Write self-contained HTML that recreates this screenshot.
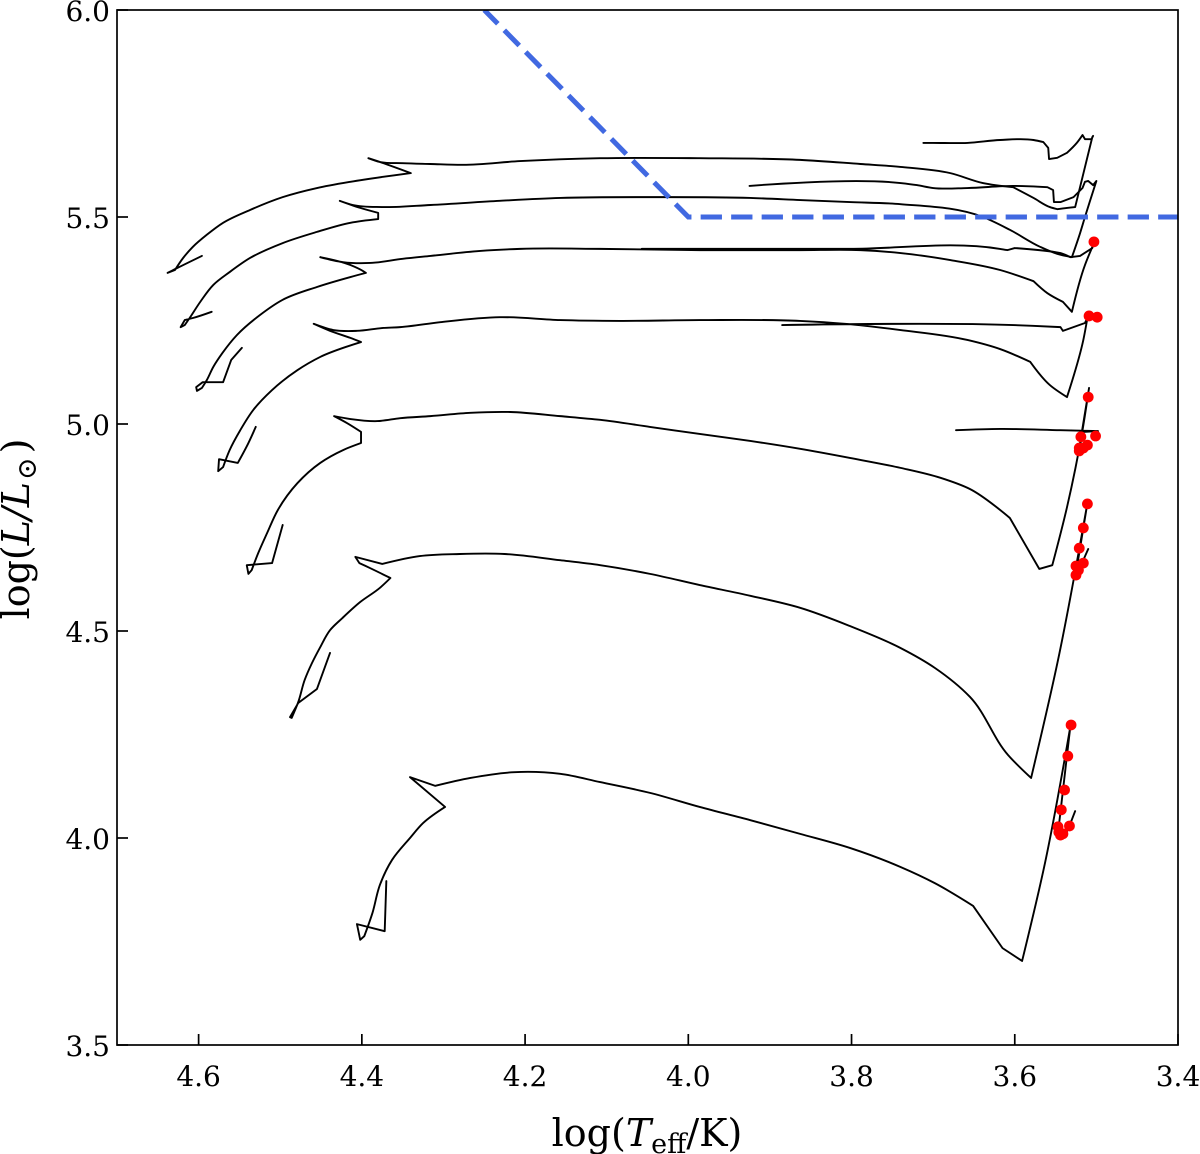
<!DOCTYPE html>
<html>
<head>
<meta charset="utf-8">
<title>HR diagram</title>
<style>
html,body{margin:0;padding:0;background:#fff;}
svg{display:block;}
text{font-family:"DejaVu Serif","Liberation Serif",serif;fill:#000;}
</style>
</head>
<body>
<svg id="chart" xmlns="http://www.w3.org/2000/svg" width="1200" height="1154" viewBox="0 0 1200 1154"></svg>
<script>
// Axis domains and ticks
const xDomain = [4.7, 3.4];
const yDomain = [3.5, 6.0];
const xTicks = [4.6, 4.4, 4.2, 4.0, 3.8, 3.6, 3.4];
const yTicks = [3.5, 4.0, 4.5, 5.0, 5.5, 6.0];
const xTickLabels = ["4.6", "4.4", "4.2", "4.0", "3.8", "3.6", "3.4"];
const yTickLabels = ["3.5", "4.0", "4.5", "5.0", "5.5", "6.0"];

// Evolutionary tracks as [logTeff, logL]
const track1 = [[4.370,3.896],[4.372,3.775],[4.406,3.792],[4.402,3.754],[4.397,3.763],[4.387,3.819],[4.378,3.886],[4.363,3.947],[4.341,4.000],[4.325,4.036],[4.298,4.075],[4.341,4.147],[4.310,4.126],[4.267,4.145],[4.213,4.159],[4.157,4.155],[4.108,4.135],[4.047,4.109],[3.986,4.075],[3.924,4.043],[3.863,4.010],[3.802,3.976],[3.740,3.930],[3.698,3.891],[3.651,3.836],[3.615,3.734],[3.591,3.703],[3.564,3.930],[3.532,4.268],[3.546,4.029],[3.542,4.007],[3.535,4.019],[3.526,4.065]];
const track2 = [[4.439,4.447],[4.455,4.360],[4.478,4.326],[4.488,4.292],[4.486,4.290],[4.478,4.328],[4.470,4.382],[4.461,4.423],[4.451,4.461],[4.439,4.502],[4.424,4.531],[4.402,4.570],[4.378,4.604],[4.365,4.628],[4.390,4.652],[4.403,4.664],[4.408,4.679],[4.375,4.662],[4.329,4.681],[4.280,4.686],[4.225,4.686],[4.157,4.671],[4.108,4.659],[4.047,4.638],[3.986,4.611],[3.924,4.585],[3.863,4.556],[3.802,4.512],[3.740,4.459],[3.698,4.411],[3.655,4.341],[3.608,4.200],[3.580,4.145],[3.547,4.430],[3.511,4.809],[3.526,4.628],[3.517,4.667],[3.510,4.698]];
const track3 = [[4.497,4.756],[4.510,4.664],[4.541,4.659],[4.539,4.638],[4.535,4.647],[4.527,4.688],[4.516,4.737],[4.503,4.792],[4.479,4.857],[4.451,4.906],[4.423,4.937],[4.401,4.954],[4.401,4.981],[4.418,5.002],[4.434,5.019],[4.414,5.012],[4.381,5.007],[4.353,5.014],[4.316,5.019],[4.267,5.027],[4.218,5.029],[4.157,5.019],[4.108,5.010],[4.047,4.993],[3.986,4.976],[3.924,4.959],[3.863,4.940],[3.802,4.918],[3.740,4.894],[3.691,4.870],[3.655,4.843],[3.606,4.773],[3.570,4.650],[3.554,4.659],[3.536,4.799],[3.517,4.985],[3.509,5.087],[3.521,4.942],[3.516,4.981],[3.498,4.983],[3.544,4.985],[3.618,4.988],[3.672,4.985]];
const track4 = [[4.530,4.993],[4.539,4.954],[4.552,4.906],[4.575,4.915],[4.576,4.886],[4.570,4.896],[4.562,4.937],[4.549,4.985],[4.533,5.034],[4.510,5.082],[4.479,5.130],[4.451,5.162],[4.401,5.198],[4.414,5.208],[4.439,5.225],[4.459,5.242],[4.435,5.227],[4.406,5.225],[4.374,5.232],[4.353,5.234],[4.304,5.246],[4.231,5.258],[4.157,5.251],[4.084,5.249],[3.986,5.251],[3.863,5.249],[3.808,5.242],[3.740,5.227],[3.658,5.203],[3.618,5.181],[3.581,5.150],[3.557,5.094],[3.536,5.065],[3.516,5.203],[3.511,5.256],[3.514,5.244],[3.541,5.225],[3.544,5.234],[3.602,5.239],[3.885,5.239]];
const track5 = [[4.547,5.184],[4.560,5.155],[4.570,5.101],[4.595,5.101],[4.603,5.089],[4.602,5.080],[4.596,5.087],[4.590,5.106],[4.582,5.138],[4.571,5.171],[4.553,5.215],[4.525,5.263],[4.497,5.300],[4.455,5.331],[4.414,5.355],[4.395,5.365],[4.399,5.370],[4.414,5.384],[4.451,5.403],[4.423,5.391],[4.390,5.389],[4.350,5.399],[4.316,5.406],[4.255,5.418],[4.206,5.423],[4.108,5.423],[3.986,5.420],[3.863,5.420],[3.789,5.420],[3.740,5.413],[3.679,5.396],[3.618,5.372],[3.577,5.345],[3.560,5.316],[3.541,5.295],[3.530,5.271],[3.514,5.384],[3.504,5.432],[3.505,5.425],[3.520,5.406],[3.532,5.403],[3.544,5.413],[3.550,5.415],[3.600,5.425],[3.609,5.420],[3.618,5.423],[3.802,5.423],[4.057,5.423]];
const track6 = [[4.584,5.271],[4.607,5.256],[4.617,5.251],[4.622,5.234],[4.617,5.239],[4.611,5.256],[4.598,5.295],[4.582,5.336],[4.562,5.367],[4.537,5.401],[4.497,5.437],[4.455,5.464],[4.414,5.486],[4.380,5.495],[4.380,5.510],[4.402,5.522],[4.427,5.539],[4.411,5.529],[4.374,5.524],[4.316,5.529],[4.231,5.539],[4.157,5.546],[4.047,5.548],[3.924,5.546],[3.863,5.541],[3.802,5.536],[3.740,5.531],[3.639,5.500],[3.606,5.469],[3.569,5.428],[3.548,5.411],[3.530,5.403],[3.520,5.461],[3.514,5.500],[3.500,5.587],[3.504,5.577],[3.510,5.587],[3.514,5.585],[3.517,5.570],[3.528,5.548],[3.544,5.536],[3.552,5.536],[3.553,5.565],[3.560,5.572],[3.602,5.575],[3.658,5.570],[3.700,5.570],[3.720,5.577],[3.740,5.582],[3.925,5.575]];
const track7 = [[4.596,5.406],[4.629,5.374],[4.638,5.365],[4.629,5.372],[4.619,5.401],[4.607,5.428],[4.590,5.457],[4.570,5.486],[4.537,5.517],[4.497,5.548],[4.455,5.570],[4.414,5.585],[4.374,5.597],[4.340,5.606],[4.378,5.633],[4.392,5.642],[4.378,5.633],[4.350,5.630],[4.316,5.628],[4.276,5.626],[4.206,5.635],[4.108,5.642],[3.986,5.642],[3.863,5.638],[3.789,5.628],[3.740,5.621],[3.679,5.606],[3.639,5.582],[3.602,5.572],[3.577,5.546],[3.557,5.524],[3.548,5.519],[3.536,5.522],[3.526,5.524],[3.505,5.693],[3.504,5.696],[3.506,5.688],[3.514,5.688],[3.517,5.698],[3.524,5.679],[3.536,5.655],[3.548,5.643],[3.558,5.640],[3.559,5.667],[3.565,5.681],[3.577,5.686],[3.618,5.686],[3.658,5.679],[3.700,5.679],[3.712,5.679]];
const tracks = [track1, track2, track3, track4, track5, track6, track7];

// Red markers as [logTeff, logL]
const redPoints = [[3.531,4.273],[3.535,4.198],[3.539,4.116],[3.543,4.068],[3.547,4.027],[3.546,4.014],[3.544,4.007],[3.541,4.010],[3.533,4.029],
[3.511,4.807],[3.516,4.749],[3.521,4.700],[3.516,4.664],[3.525,4.657],[3.522,4.647],[3.525,4.635],
[3.510,5.065],[3.519,4.969],[3.501,4.971],[3.511,4.949],[3.516,4.942],[3.521,4.942],[3.521,4.935],
[3.509,5.261],[3.499,5.258],
[3.503,5.440]];

// Dashed limit line as [logTeff, logL]
const limitLine = [[4.25,6.0],[4.0,5.5],[3.4,5.5]];

const svg = document.getElementById('chart');
const NS = 'http://www.w3.org/2000/svg';
const plot = {left:117, right:1178, top:10, bottom:1045};
function xScale(v){ return plot.left + (v - xDomain[0]) / (xDomain[1] - xDomain[0]) * (plot.right - plot.left); }
function yScale(v){ return plot.bottom - (v - yDomain[0]) / (yDomain[1] - yDomain[0]) * (plot.bottom - plot.top); }
function make(tag, attrs, parent){
  const el = document.createElementNS(NS, tag);
  for (const k in attrs) el.setAttribute(k, attrs[k]);
  (parent || svg).appendChild(el);
  return el;
}
function pointsOf(arr){ return arr.map(p => xScale(p[0]).toFixed(2) + ',' + yScale(p[1]).toFixed(2)).join(' '); }

// Path through the data: very gentle bends are rounded, anything sharper stays a corner.
function smoothPath(arr){
  const pts = arr.map(p => [xScale(p[0]), yScale(p[1])]);
  const dirs = pts.map((p, i) => {
    if (i === 0 || i === pts.length - 1) return null;
    const a = pts[i - 1], b = pts[i + 1];
    const ax = p[0] - a[0], ay = p[1] - a[1], bx = b[0] - p[0], by = b[1] - p[1];
    const la = Math.hypot(ax, ay) || 1, lb = Math.hypot(bx, by) || 1;
    const cos = (ax * bx + ay * by) / (la * lb);
    if (cos < 0.955) return null;
    const dx = ax / (la * la) + bx / (lb * lb), dy = ay / (la * la) + by / (lb * lb);
    const l = Math.hypot(dx, dy) || 1;
    return [dx / l, dy / l];
  });
  let d = 'M' + pts[0][0].toFixed(2) + ' ' + pts[0][1].toFixed(2);
  for (let i = 0; i < pts.length - 1; i++) {
    const p = pts[i], q = pts[i + 1];
    const len = Math.hypot(q[0] - p[0], q[1] - p[1]) / 3;
    const c1 = dirs[i] ? [p[0] + dirs[i][0] * len, p[1] + dirs[i][1] * len] : p;
    const c2 = dirs[i + 1] ? [q[0] - dirs[i + 1][0] * len, q[1] - dirs[i + 1][1] * len] : q;
    d += 'C' + c1[0].toFixed(2) + ' ' + c1[1].toFixed(2) + ' ' + c2[0].toFixed(2) + ' ' + c2[1].toFixed(2) + ' ' + q[0].toFixed(2) + ' ' + q[1].toFixed(2);
  }
  return d;
}

const bg = make('rect', {x:0, y:0, width:1200, height:1154, fill:'#fff'});



const defs = make('defs', {});
const clip = make('clipPath', {id:'plot-clip'}, defs);
make('rect', {x:plot.left, y:plot.top, width:plot.right-plot.left, height:plot.bottom-plot.top}, clip);

tracks.forEach((t, i) => {
  const line = make('path', {d:smoothPath(t), fill:'none', stroke:'#000', 'stroke-width':1.9, 'stroke-linejoin':'round', 'stroke-linecap':'round'});
  
  
});

redPoints.forEach((p, i) => {
  const dot = make('circle', {cx:xScale(p[0]).toFixed(2), cy:yScale(p[1]).toFixed(2), r:5.4, fill:'#ff0000'});
  
  
});

const limit = make('polyline', {points:pointsOf(limitLine), fill:'none', stroke:'#4169e1', 'stroke-width':5, 'stroke-dasharray':'21.3 9.2', 'stroke-dashoffset':2, 'clip-path':'url(#plot-clip)'});



const frame = make('rect', {x:plot.left, y:plot.top, width:plot.right-plot.left, height:plot.bottom-plot.top, fill:'none', stroke:'#000', 'stroke-width':1.7});



xTicks.forEach((v, i) => {
  const x = xScale(v);
  const tick = make('line', {x1:x, x2:x, y1:plot.bottom, y2:plot.bottom - 11, stroke:'#000', 'stroke-width':1.7});
  
  
  const label = make('text', {x:x, y:1086, 'text-anchor':'middle', 'font-size':28});
  label.textContent = xTickLabels[i];
  
  
});

yTicks.forEach((v, i) => {
  const y = yScale(v);
  const tick = make('line', {x1:plot.left, x2:plot.left + 11, y1:y, y2:y, stroke:'#000', 'stroke-width':1.7});
  
  
  const label = make('text', {x:110, y:y + 11, 'text-anchor':'end', 'font-size':28});
  label.textContent = yTickLabels[i];
  
  
});

const xTitle = make('text', {x:647, y:1146, 'text-anchor':'middle', 'font-size':38});
xTitle.innerHTML = 'log(<tspan font-style="italic">T</tspan><tspan font-size="27" dy="7">eff</tspan><tspan dy="-7">/K)</tspan>';



const yTitle = make('text', {x:0, y:0, 'text-anchor':'middle', 'font-size':38, transform:'translate(29,529) rotate(-90)'});
yTitle.innerHTML = 'log(<tspan font-style="italic">L/L</tspan><tspan font-size="27" dx="2" dy="7">⊙</tspan><tspan dx="4" dy="-7">)</tspan>';


</script>
</body>
</html>
